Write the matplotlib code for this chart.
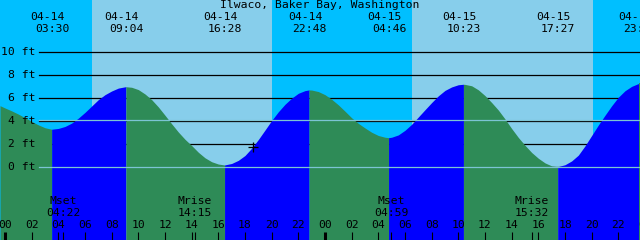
import matplotlib
matplotlib.use('Agg')
import matplotlib.pyplot as plt
import matplotlib.transforms as mtransforms
import numpy as np

title = 'Ilwaco, Baker Bay, Washington'

# tide height in ft, every half hour; hours counted from 04-14 00:00
tide_hours = [-0.375, 0, 0.5, 1, 1.5, 2, 2.5, 3, 3.5,
              4, 4.5, 5, 5.5, 6, 6.5, 7, 7.5, 8, 8.5, 9, 9.067,
              9.5, 10, 10.5, 11, 11.5, 12, 12.5, 13, 13.5, 14, 14.5, 15, 15.5, 16, 16.467,
              17, 17.5, 18, 18.5, 19, 19.5, 20, 20.5, 21, 21.5, 22, 22.5, 22.8,
              23, 23.5, 24, 24.5, 25, 25.5, 26, 26.5, 27, 27.5, 28, 28.5, 28.767,
              29, 29.5, 30, 30.5, 31, 31.5, 32, 32.5, 33, 33.5, 34, 34.383,
              34.5, 35, 35.5, 36, 36.5, 37, 37.5, 38, 38.5, 39, 39.5, 40, 40.5, 41, 41.45,
              42, 42.5, 43, 43.5, 44, 44.5, 45, 45.5, 46, 46.5, 47, 47.583, 47.625]
tide_ft = [5.33, 5.13, 4.88, 4.60, 4.29, 3.97, 3.67, 3.42, 3.29,
           3.36, 3.53, 3.82, 4.25, 4.75, 5.30, 5.85, 6.28, 6.60, 6.85, 6.96, 6.97,
           6.92, 6.72, 6.34, 5.85, 5.22, 4.50, 3.76, 3.05, 2.42, 1.88, 1.30, 0.82, 0.48, 0.28, 0.20,
           0.33, 0.60, 1.02, 1.65, 2.40, 3.22, 4.05, 4.80, 5.45, 5.98, 6.40, 6.63, 6.69,
           6.68, 6.55, 6.28, 5.88, 5.40, 4.85, 4.28, 3.80, 3.40, 3.03, 2.75, 2.60, 2.56,
           2.60, 2.80, 3.20, 3.72, 4.35, 4.98, 5.60, 6.18, 6.65, 6.95, 7.14, 7.18,
           7.17, 7.05, 6.70, 6.20, 5.60, 4.95, 4.18, 3.35, 2.58, 1.90, 1.28, 0.78, 0.38, 0.12, 0.05,
           0.22, 0.55, 1.05, 1.85, 2.75, 3.65, 4.50, 5.32, 6.06, 6.62, 7.00, 7.28, 7.28]

# high / low tide events (first one is a low)
event_dates = ['04-14', '04-14', '04-14', '04-14', '04-15', '04-15', '04-15', '04-15']
event_times = ['03:30', '09:04', '16:28', '22:48', '04:46', '10:23', '17:27', '23:35']
event_day = [0, 0, 0, 0, 1, 1, 1, 1]

# sunrise, sunset, sunrise, sunset
sun_times = ['06:31', '20:02', '06:31', '20:07']
sun_day = [0, 0, 1, 1]

moon_labels = ['Mset', 'Mrise', 'Mset', 'Mrise']
moon_times = ['04:22', '14:15', '04:59', '15:32']
moon_day = [0, 0, 1, 1]

ft_ticks = [0, 2, 4, 6, 8, 10]
datum_ft = [0.0, 4.07]
now_hour, now_ft = 18.62, 1.78

NIGHT = '#00BFFF'
DAY = '#87CEEB'
RISING = '#0000FF'
FALLING = '#2E8B57'
DATUM = '#7CC4D4'


def to_hours(t, day):
    hh, mm = t.split(':')
    return 24 * day + int(hh) + int(mm) / 60.0


event_hours = [to_hours(t, d) for t, d in zip(event_times, event_day)]
sun_hours = [to_hours(t, d) for t, d in zip(sun_times, sun_day)]
moon_hours = [to_hours(t, d) for t, d in zip(moon_times, moon_day)]

W, H = 640, 240
x0, x1 = -0.375, 47.625
y0, y1 = -6.29, 14.47

fig = plt.figure(figsize=(6.4, 2.4), dpi=100)
ax = fig.add_axes([0, 0, 1, 1])
ax.set_xlim(x0, x1)
ax.set_ylim(y0, y1)
ax.axis('off')

font = dict(family='DejaVu Sans Mono', fontsize=8.2, color='black')
xdata_ypix = mtransforms.blended_transform_factory(ax.transData, ax.transAxes)
xpix_ydata = mtransforms.blended_transform_factory(ax.transAxes, ax.transData)


def fy(py):
    return 1 - py / H


# sky: night / day
edges = [x0] + sun_hours + [x1]
for i in range(len(edges) - 1):
    ax.axvspan(edges[i], edges[i + 1], color=NIGHT if i % 2 == 0 else DAY, lw=0, zorder=0)

# grid lines
for v in ft_ticks:
    ax.axhline(v, xmin=39 / W, xmax=1, color='black', lw=0.9, zorder=1)
    ax.text(35.5 / W, v, f'{v} ft', transform=xpix_ydata, ha='right', va='center', **font)

# water, blue while rising, green while falling
hrs = np.array(tide_hours)
fts = np.array(tide_ft)
bounds = [x0] + event_hours + [x1]
for i in range(len(bounds) - 1):
    m = (hrs >= bounds[i] - 1e-3) & (hrs <= bounds[i + 1] + 1e-3)
    col = FALLING if i % 2 == 0 else RISING
    ax.fill_between(hrs[m], fts[m], y0 - 1, color=col, lw=0, zorder=2)

for v in datum_ft:
    ax.axhline(v, xmin=39 / W, xmax=1, color=DATUM, lw=0.9, zorder=3)

ax.plot([now_hour], [now_ft], marker='+', color='black', ms=7, mew=0.9, zorder=4)

# title and event labels
ax.text(0.5, fy(5.5), title, transform=ax.transAxes, ha='center', va='center', **font)
for h, d, t in zip(event_hours, event_dates, event_times):
    ax.annotate(d, (h, fy(17.5)), xycoords=xdata_ypix, xytext=(-4, 0),
                textcoords='offset pixels', ha='center', va='center', **font)
    ax.annotate(t, (h, fy(29)), xycoords=xdata_ypix, xytext=(0.5, 0),
                textcoords='offset pixels', ha='center', va='center', **font)

# hour axis at the bottom
for h in range(0, 50, 2):
    ax.text(h, fy(225.5), f'{h % 24:02d}', transform=xdata_ypix, ha='center', va='center', **font)
    lw = 2.2 if h % 24 == 0 else 0.8
    ax.plot([h, h], [fy(231.5), 0], transform=xdata_ypix, color='black', lw=lw, zorder=5,
            solid_capstyle='butt')

# moon rise / set
for h, lab, t in zip(moon_hours, moon_labels, moon_times):
    ax.text(h, fy(201.5), lab, transform=xdata_ypix, ha='center', va='center', **font)
    ax.text(h, fy(213), t, transform=xdata_ypix, ha='center', va='center', **font)
    ax.plot([h, h], [fy(231.5), 0], transform=xdata_ypix, color='black', lw=0.8, zorder=5,
            solid_capstyle='butt')

fig.savefig('out.png', dpi=100)
